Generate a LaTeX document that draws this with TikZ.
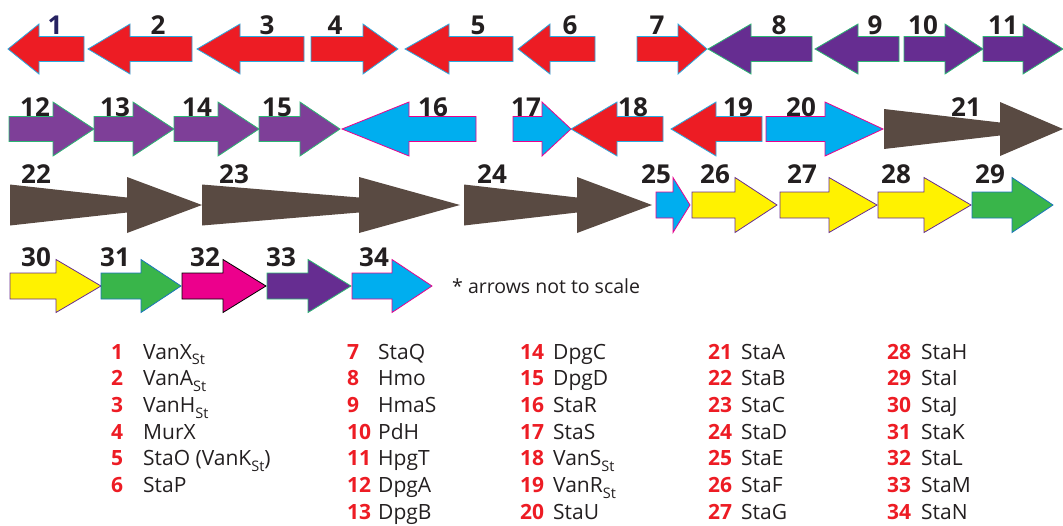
\documentclass[tikz,border=0pt]{standalone}
\usepackage{fontspec}
\setmainfont{Open Sans}
\definecolor{arrred}{HTML}{ED1C24}
\definecolor{arrpurple}{HTML}{662D91}
\definecolor{arrpurpletwo}{HTML}{7E3F98}
\definecolor{arrcyan}{HTML}{00AEEF}
\definecolor{arrbrown}{HTML}{594A42}
\definecolor{arryellow}{HTML}{FFF200}
\definecolor{arrgreen}{HTML}{39B54A}
\definecolor{arrmag}{HTML}{EC008C}
\definecolor{edgeblue}{HTML}{29ABE2}
\definecolor{edgegreen}{HTML}{2BB673}
\definecolor{edgeblue2}{HTML}{1C75BC}
\definecolor{inkdark}{HTML}{231F20}
\definecolor{inknavy}{HTML}{262262}
\definecolor{legred}{HTML}{ED1C24}

% block arrow: style, tail x, head-base x, tip x, centre y, shaft half-height, head half-height
\newcommand\blockarrow[7]{\path[#1] (#2,#5-#6) -- (#3,#5-#6) -- (#3,#5-#7) -- (#4,#5) -- (#3,#5+#7) -- (#3,#5+#6) -- (#2,#5+#6) -- cycle;}
% tapered arrow: style, tail x, head-base x, tip x, centre y, tail half-height, neck half-height, head half-height
\newcommand\taperarrow[8]{\path[#1] (#2,#5-#6) -- (#3,#5-#7) -- (#3,#5-#8) -- (#4,#5) -- (#3,#5+#8) -- (#3,#5+#7) -- (#2,#5+#6) -- cycle;}
\newcommand\stsub{\raisebox{-0.28em}{\fontsize{14.5}{14.5}\selectfont St}}

\begin{document}
\begin{tikzpicture}[x=1pt,y=-1pt,
  redA/.style={fill=arrred,draw=edgeblue,line width=0.8pt},
  purA/.style={fill=arrpurple,draw=edgegreen,line width=0.8pt},
  purB/.style={fill=arrpurpletwo,draw=edgegreen,line width=0.8pt},
  cyanA/.style={fill=arrcyan,draw=arrmag,line width=0.8pt},
  brownA/.style={fill=arrbrown},
  yelA/.style={fill=arryellow,draw=arrpurple,line width=0.8pt},
  greenA/.style={fill=arrgreen,draw=edgeblue2,line width=0.8pt},
  magA/.style={fill=arrmag,draw=black,line width=0.8pt},
  num/.style={inner sep=0pt,text=inkdark,font=\fontsize{26}{26}\selectfont\bfseries},
  legnum/.style={inner sep=0pt,anchor=base west,text=legred,font=\fontsize{21}{21}\selectfont\bfseries},
  legtxt/.style={inner sep=0pt,anchor=base west,text=inkdark,font=\fontsize{21}{21}\selectfont},
  note/.style={inner sep=0pt,anchor=west,text=inkdark,font=\fontsize{19.5}{19.5}\selectfont}]
\useasboundingbox (0,0) rectangle (1063,525);

% row 1
\blockarrow{redA}{84}{39}{8}{49}{12.5}{25}
\blockarrow{redA}{192}{130}{88}{49}{12.5}{25}
\blockarrow{redA}{304}{240}{197}{49}{12.5}{25}
\blockarrow{redA}{311}{363}{398}{49}{12.5}{25}
\blockarrow{redA}{513}{449}{405}{49}{12.5}{25}
\blockarrow{redA}{595}{550}{518}{49}{12.5}{25}
\blockarrow{redA}{637}{678}{707}{49}{12.5}{25}
\blockarrow{purA}{812}{751}{708}{49}{12.5}{25}
\blockarrow{purA}{899}{858}{815}{49}{12.5}{25}
\blockarrow{purA}{904}{945}{983}{49}{12.5}{25}
\blockarrow{purA}{983}{1023}{1063}{49}{12.5}{25}

% row 2
\blockarrow{purB}{9}{53}{94}{129}{12.5}{27}
\blockarrow{purB}{94}{133}{174}{129}{12.5}{27}
\blockarrow{purB}{174}{218}{259}{129}{12.5}{27}
\blockarrow{purB}{259}{300}{340}{129}{12.5}{27}
\blockarrow{cyanA}{476}{409}{342}{129}{12.5}{27}
\blockarrow{cyanA}{513}{542}{571}{129}{12.5}{27}
\blockarrow{redA}{663}{617}{571}{129}{12.5}{27}
\blockarrow{redA}{762}{716}{671}{129}{12.5}{27}
\blockarrow{cyanA}{766}{825}{883}{129}{12.5}{27}
\taperarrow{brownA}{884}{1000}{1063}{129}{20}{6.5}{27}

% row 3
\taperarrow{brownA}{10}{127}{202}{205}{20.5}{7.5}{28}
\taperarrow{brownA}{202}{359}{460}{205}{20.5}{7.5}{28}
\taperarrow{brownA}{464}{577}{652}{205}{20.5}{7.5}{28}
\blockarrow{cyanA}{656}{673}{690}{205}{13}{27.5}
\blockarrow{yelA}{692}{735}{777}{205}{13}{27.5}
\blockarrow{yelA}{780}{829}{877}{205}{13}{27.5}
\blockarrow{yelA}{878}{924}{971}{205}{13}{27.5}
\blockarrow{greenA}{972}{1012}{1053}{205}{13}{27.5}

% row 4
\blockarrow{yelA}{10}{56}{101}{286}{13}{26.5}
\blockarrow{greenA}{101}{141}{181}{286}{13}{26.5}
\blockarrow{magA}{182}{223}{266}{286}{13}{26.5}
\blockarrow{purA}{267}{308}{351}{286}{13}{26.5}
\blockarrow{cyanA}{352}{392}{432}{286}{13}{26.5}

% gene numbers over the arrows
\node[num,text=inknavy] (g1) at (55,25) {1};
\node[num] (g2) at (158,25) {2};
\node[num] (g3) at (267,25) {3};
\node[num] (g4) at (335,25) {4};
\node[num] (g5) at (478,25) {5};
\node[num] (g6) at (570,25) {6};
\node[num] (g7) at (657,25) {7};
\node[num] (g8) at (779,25) {8};
\node[num] (g9) at (875,25) {9};
\node[num] (g10) at (923,25) {10};
\node[num] (g11) at (1003,25) {11};
\node[num] (g12) at (35,107) {12};
\node[num] (g13) at (115,107) {13};
\node[num] (g14) at (197,107) {14};
\node[num] (g15) at (277,107) {15};
\node[num] (g16) at (433,107) {16};
\node[num] (g17) at (526,107) {17};
\node[num] (g18) at (633,107) {18};
\node[num] (g19) at (738,107) {19};
\node[num] (g20) at (801,107) {20};
\node[num] (g21) at (966,107) {21};
\node[num] (g22) at (36,174) {22};
\node[num] (g23) at (234,174) {23};
\node[num] (g24) at (492,174) {24};
\node[num] (g25) at (656,174) {25};
\node[num] (g26) at (715,174) {26};
\node[num] (g27) at (802,174) {27};
\node[num] (g28) at (896,174) {28};
\node[num] (g29) at (990,174) {29};
\node[num] (g30) at (36,257) {30};
\node[num] (g31) at (115,257) {31};
\node[num] (g32) at (205,257) {32};
\node[num] (g33) at (281,257) {33};
\node[num] (g34) at (374,257) {34};

\node[note] (scale) at (452,286) {* arrows not to scale};

% legend, column 1
\node[legnum] (l1) at (111,359) {1};      \node[legtxt] (d1) at (143,359) {VanX\stsub};
\node[legnum] (l2) at (111,385.7) {2};    \node[legtxt] (d2) at (143,385.7) {VanA\stsub};
\node[legnum] (l3) at (111,412.4) {3};    \node[legtxt] (d3) at (143,412.4) {VanH\stsub};
\node[legnum] (l4) at (111,439.1) {4};    \node[legtxt] (d4) at (143,439.1) {MurX};
\node[legnum] (l5) at (111,465.8) {5};    \node[legtxt] (d5) at (143,465.8) {StaO (VanK\stsub)};
\node[legnum] (l6) at (111,492.5) {6};    \node[legtxt] (d6) at (143,492.5) {StaP};
% column 2
\node[legnum] (l7) at (347,359) {7};      \node[legtxt] (d7) at (378,359) {StaQ};
\node[legnum] (l8) at (347,385.7) {8};    \node[legtxt] (d8) at (378,385.7) {Hmo};
\node[legnum] (l9) at (347,412.4) {9};    \node[legtxt] (d9) at (378,412.4) {HmaS};
\node[legnum] (l10) at (347,439.1) {10};  \node[legtxt] (d10) at (378,439.1) {PdH};
\node[legnum] (l11) at (347,465.8) {11};  \node[legtxt] (d11) at (378,465.8) {HpgT};
\node[legnum] (l12) at (347,492.5) {12};  \node[legtxt] (d12) at (378,492.5) {DpgA};
\node[legnum] (l13) at (347,519.2) {13};  \node[legtxt] (d13) at (378,519.2) {DpgB};
% column 3
\node[legnum] (l14) at (520,359) {14};    \node[legtxt] (d14) at (553,359) {DpgC};
\node[legnum] (l15) at (520,385.7) {15};  \node[legtxt] (d15) at (553,385.7) {DpgD};
\node[legnum] (l16) at (520,412.4) {16};  \node[legtxt] (d16) at (553,412.4) {StaR};
\node[legnum] (l17) at (520,439.1) {17};  \node[legtxt] (d17) at (553,439.1) {StaS};
\node[legnum] (l18) at (520,465.8) {18};  \node[legtxt] (d18) at (553,465.8) {VanS\stsub};
\node[legnum] (l19) at (520,492.5) {19};  \node[legtxt] (d19) at (553,492.5) {VanR\stsub};
\node[legnum] (l20) at (520,519.2) {20};  \node[legtxt] (d20) at (553,519.2) {StaU};
% column 4
\node[legnum] (l21) at (708,359) {21};    \node[legtxt] (d21) at (741,359) {StaA};
\node[legnum] (l22) at (708,385.7) {22};  \node[legtxt] (d22) at (741,385.7) {StaB};
\node[legnum] (l23) at (708,412.4) {23};  \node[legtxt] (d23) at (741,412.4) {StaC};
\node[legnum] (l24) at (708,439.1) {24};  \node[legtxt] (d24) at (741,439.1) {StaD};
\node[legnum] (l25) at (708,465.8) {25};  \node[legtxt] (d25) at (741,465.8) {StaE};
\node[legnum] (l26) at (708,492.5) {26};  \node[legtxt] (d26) at (741,492.5) {StaF};
\node[legnum] (l27) at (708,519.2) {27};  \node[legtxt] (d27) at (741,519.2) {StaG};
% column 5
\node[legnum] (l28) at (887,359) {28};    \node[legtxt] (d28) at (921,359) {StaH};
\node[legnum] (l29) at (887,385.7) {29};  \node[legtxt] (d29) at (921,385.7) {StaI};
\node[legnum] (l30) at (887,412.4) {30};  \node[legtxt] (d30) at (921,412.4) {StaJ};
\node[legnum] (l31) at (887,439.1) {31};  \node[legtxt] (d31) at (921,439.1) {StaK};
\node[legnum] (l32) at (887,465.8) {32};  \node[legtxt] (d32) at (921,465.8) {StaL};
\node[legnum] (l33) at (887,492.5) {33};  \node[legtxt] (d33) at (921,492.5) {StaM};
\node[legnum] (l34) at (887,519.2) {34};  \node[legtxt] (d34) at (921,519.2) {StaN};
\end{tikzpicture}
\end{document}
